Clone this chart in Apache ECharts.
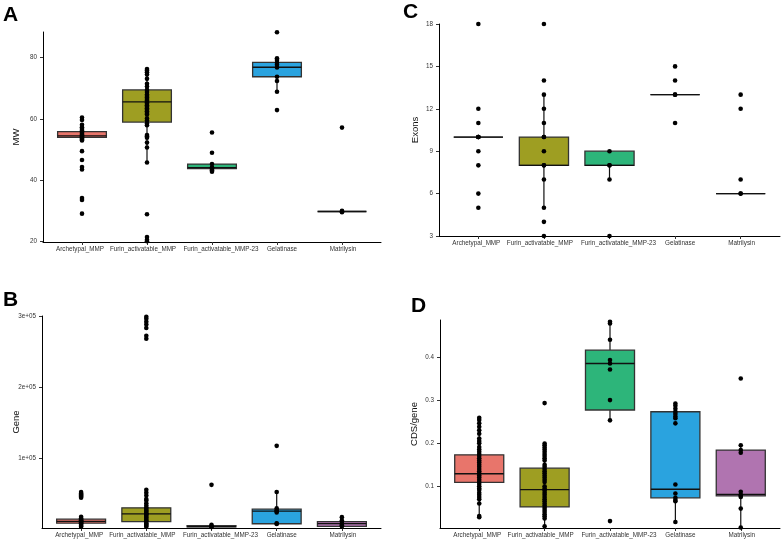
<!DOCTYPE html>
<html>
<head>
<meta charset="utf-8">
<script src="https://cdn.jsdelivr.net/npm/echarts@6/dist/echarts.min.js"></script>
<style>html,body{margin:0;padding:0;background:#fff}#c{width:784px;height:541px}</style>
</head>
<body>
<div id="c"></div>
<script>
const categories = ['Archetypal_MMP','Furin_activatable_MMP','Furin_activatable_MMP-23','Gelatinase','Matrilysin'];
const boxColors = ['#E8756B','#9E9E22','#2DB57A','#2AA3DF','#B074B0'];

// Panel A: MW  — box rows: [whiskerLow, Q1, median, Q3, whiskerHigh]
const mwBox = [
  [53.0, 54.0, 54.5, 55.9, 58.1],
  [45.8, 59.0, 65.6, 69.5, 76.3],
  [42.8, 43.8, 44.1, 45.3, 45.3],
  [68.9, 73.8, 76.9, 78.5, 79.8],
  [29.8, 29.8, 29.8, 29.8, 29.8]
];
const mwPoints = [
  [60.5, 59.7, 58.1, 57.3, 56.7, 56.2, 55.9, 55.5, 55.1, 54.8, 54.5, 54.3, 54.0, 53.6, 53.3, 53.0, 49.5, 46.6, 44.3, 43.5, 34.2, 33.6, 29.1],
  [76.3, 75.8, 75.3, 74.5, 73.1, 71.5, 70.6, 69.5, 68.8, 68.0, 67.5, 67.0, 66.5, 66.0, 65.5, 65.0, 64.5, 64.0, 63.5, 63.0, 62.5, 62.0, 61.5, 60.2, 59.5, 58.5, 58.0, 54.8, 54.4, 53.9, 52.3, 50.7, 45.8, 28.9, 21.5, 20.6, 20.1],
  [55.6, 49.0, 45.3, 44.2, 44.0, 43.7, 43.3, 42.8],
  [88.3, 79.8, 79.3, 78.4, 77.7, 76.8, 73.8, 72.4, 68.9, 62.9],
  [57.2, 30.0, 29.8, 29.6]
];

// Panel B: Gene
const geneBox = [
  [3000, 8000, 10500, 13600, 17000],
  [3000, 10300, 21000, 29600, 55000],
  [2500, 2700, 3200, 4600, 5600],
  [7000, 7200, 25000, 27800, 52000],
  [3200, 3400, 7500, 10300, 16500]
];
const genePoints = [
  [52000, 50000, 48500, 47000, 45500, 44000, 17000, 15000, 13000, 12000, 11000, 10000, 9000, 8000, 7000, 5500, 4000, 3000],
  [299000, 296000, 292000, 288000, 283000, 272000, 268000, 55000, 51000, 47000, 42000, 40000, 36000, 33000, 30000, 28000, 26000, 24000, 22000, 21000, 20000, 18000, 16000, 14000, 12000, 10000, 8000, 6000, 4500, 3000],
  [62000, 5600, 4000, 3200, 2500],
  [117000, 52000, 29000, 26000, 25000, 23000, 8000, 7000],
  [16500, 11700, 10000, 7000, 5000, 3200]
];

// Panel C: Exons
const exonBox = [
  [10, 10, 10, 10, 10],
  [5, 8, 8, 10, 13],
  [7, 8, 8, 9, 9],
  [13, 13, 13, 13, 13],
  [6, 6, 6, 6, 6]
];
const exonPoints = [
  [18, 12, 11, 10, 10, 10, 10, 9, 8, 6, 5],
  [18, 14, 13, 12, 11, 10, 10, 9, 8, 8, 7, 5, 4, 3],
  [9, 8, 8, 7, 3],
  [15, 14, 13, 13, 11],
  [13, 12, 7, 6, 6]
];

// Panel D: CDS/gene
const cdsBox = [
  [0.028, 0.109, 0.129, 0.173, 0.259],
  [0.007, 0.052, 0.092, 0.142, 0.200],
  [0.253, 0.277, 0.385, 0.416, 0.482],
  [0.017, 0.073, 0.093, 0.273, 0.292],
  [0.004, 0.0775, 0.081, 0.184, 0.195]
];
const cdsPoints = [
  [0.259, 0.254, 0.246, 0.238, 0.230, 0.222, 0.211, 0.205, 0.200, 0.191, 0.185, 0.180, 0.175, 0.170, 0.165, 0.160, 0.155, 0.150, 0.145, 0.140, 0.135, 0.130, 0.125, 0.120, 0.115, 0.110, 0.105, 0.100, 0.095, 0.091, 0.085, 0.080, 0.075, 0.070, 0.060, 0.031, 0.028],
  [0.293, 0.199, 0.195, 0.190, 0.185, 0.180, 0.175, 0.170, 0.165, 0.160, 0.150, 0.145, 0.140, 0.135, 0.130, 0.125, 0.120, 0.115, 0.110, 0.100, 0.095, 0.090, 0.085, 0.080, 0.075, 0.070, 0.065, 0.060, 0.055, 0.050, 0.045, 0.040, 0.035, 0.030, 0.025, 0.007],
  [0.482, 0.478, 0.440, 0.393, 0.385, 0.371, 0.300, 0.253, 0.019],
  [0.292, 0.287, 0.280, 0.273, 0.268, 0.262, 0.258, 0.246, 0.104, 0.083, 0.073, 0.068, 0.065, 0.017],
  [0.350, 0.195, 0.184, 0.178, 0.087, 0.080, 0.078, 0.075, 0.048, 0.004]
];

const FONT = 'Liberation Sans, Arial, sans-serif';
const LBL = 6.3;
const panels = [
  {box: mwBox, pts: mwPoints, name: 'MW', min: 19.85, max: 88.4, ticks: [20,40,60,80], fmt: v => String(v),
   grid: {left: 43, top: 32, width: 338, height: 210}, nameGap: 22},
  {box: exonBox, pts: exonPoints, name: 'Exons', min: 3, max: 18, ticks: [3,6,9,12,15,18], fmt: v => String(v),
   grid: {left: 439, top: 24, width: 341, height: 212}, nameGap: 19},
  {box: geneBox, pts: genePoints, name: 'Gene', min: 1200, max: 300000, ticks: [100000,200000,300000], fmt: v => (v/100000) + 'e+05',
   grid: {left: 42, top: 316, width: 339, height: 212}, nameGap: 21},
  {box: cdsBox, pts: cdsPoints, name: 'CDS/gene', min: 0.003, max: 0.486, ticks: [0.1,0.2,0.3,0.4], fmt: v => v.toFixed(1),
   grid: {left: 440, top: 320, width: 340, height: 208}, nameGap: 21}
];

function renderBox(params, api) {
  const x = api.value(0);
  const lo = api.value(1), q1 = api.value(2), med = api.value(3), q3 = api.value(4), hi = api.value(5);
  const idx = api.value(6);
  const hw = api.size([0.75, 0])[0] / 2;
  const pLo = api.coord([x, lo]), pQ1 = api.coord([x, q1]), pMed = api.coord([x, med]);
  const pQ3 = api.coord([x, q3]), pHi = api.coord([x, hi]);
  const lineStyle = {stroke: '#111', lineWidth: 1.2};
  return {
    type: 'group',
    children: [
      {type: 'line', shape: {x1: pLo[0], y1: pLo[1], x2: pQ1[0], y2: pQ1[1]}, style: lineStyle},
      {type: 'line', shape: {x1: pQ3[0], y1: pQ3[1], x2: pHi[0], y2: pHi[1]}, style: lineStyle},
      {type: 'rect', shape: {x: pQ3[0] - hw, y: pQ3[1], width: 2 * hw, height: pQ1[1] - pQ3[1]},
       style: {fill: boxColors[idx], stroke: '#333', lineWidth: 1.3}},
      {type: 'line', shape: {x1: pMed[0] - hw, y1: pMed[1], x2: pMed[0] + hw, y2: pMed[1]},
       style: {stroke: '#111', lineWidth: 1.3}}
    ]
  };
}

// label offsets (rich padding) so the long category names sit as in the reference
const labelShift = [-2, -4, 9, 5, 1];
const xRich = {};
labelShift.forEach((s, i) => {
  const pad = s < 0 ? [0, -2 * s, 0, 0] : [0, 0, 0, 2 * s];
  xRich['c' + (i + 1)] = {fontSize: LBL, color: '#333', fontFamily: FONT, padding: pad};
});

const grids = [], xAxes = [], yAxes = [], series = [];
panels.forEach((p, gi) => {
  grids.push(p.grid);
  xAxes.push({
    type: 'value', gridIndex: gi, min: 0.4, max: 5.6,
    splitLine: {show: false},
    axisLine: {show: true, lineStyle: {color: '#000', width: 1}},
    axisTick: {show: true, length: 3, customValues: [1,2,3,4,5], lineStyle: {color: '#333'}},
    axisLabel: {customValues: [1,2,3,4,5],
      formatter: v => { const k = Math.round(v); return '{c' + k + '|' + categories[k - 1] + '}'; },
      rich: xRich, fontSize: LBL, color: '#333', fontFamily: FONT, margin: 4}
  });
  yAxes.push({
    type: 'value', gridIndex: gi, min: p.min, max: p.max,
    name: p.name, nameLocation: 'middle', nameGap: p.nameGap, nameRotate: 90, nameMoveOverlap: false,
    nameTextStyle: {fontSize: 9.5, color: '#111', fontFamily: FONT},
    splitLine: {show: false},
    axisLine: {show: true, lineStyle: {color: '#000', width: 1}},
    axisTick: {show: true, length: 3, customValues: p.ticks, lineStyle: {color: '#333'}},
    axisLabel: {customValues: p.ticks, formatter: p.fmt, fontSize: LBL, color: '#333', fontFamily: FONT, margin: 6}
  });
  series.push({
    type: 'custom', xAxisIndex: gi, yAxisIndex: gi, renderItem: renderBox,
    encode: {x: 0, y: [1,2,3,4,5]},
    data: p.box.map((b, i) => [i + 1].concat(b).concat([i])),
    z: 2, silent: true
  });
  const sdata = [];
  p.pts.forEach((arr, i) => arr.forEach(v => sdata.push([i + 1, v])));
  series.push({
    type: 'scatter', xAxisIndex: gi, yAxisIndex: gi, data: sdata,
    symbolSize: 4.6, itemStyle: {color: '#000', opacity: 1}, clip: false, z: 3, silent: true
  });
});

const letterFont = 'bold 21px ' + FONT;
const chart = echarts.init(document.getElementById('c'), null, {renderer: 'canvas'});
chart.setOption({
  animation: false,
  backgroundColor: '#fff',
  grid: grids, xAxis: xAxes, yAxis: yAxes, series: series,
  graphic: [
    {type: 'text', left: 3, top: 5, style: {text: 'A', font: letterFont, fill: '#000'}},
    {type: 'text', left: 403, top: 2, style: {text: 'C', font: letterFont, fill: '#000'}},
    {type: 'text', left: 3, top: 290, style: {text: 'B', font: letterFont, fill: '#000'}},
    {type: 'text', left: 411, top: 296, style: {text: 'D', font: letterFont, fill: '#000'}}
  ]
});
</script>
</body>
</html>
